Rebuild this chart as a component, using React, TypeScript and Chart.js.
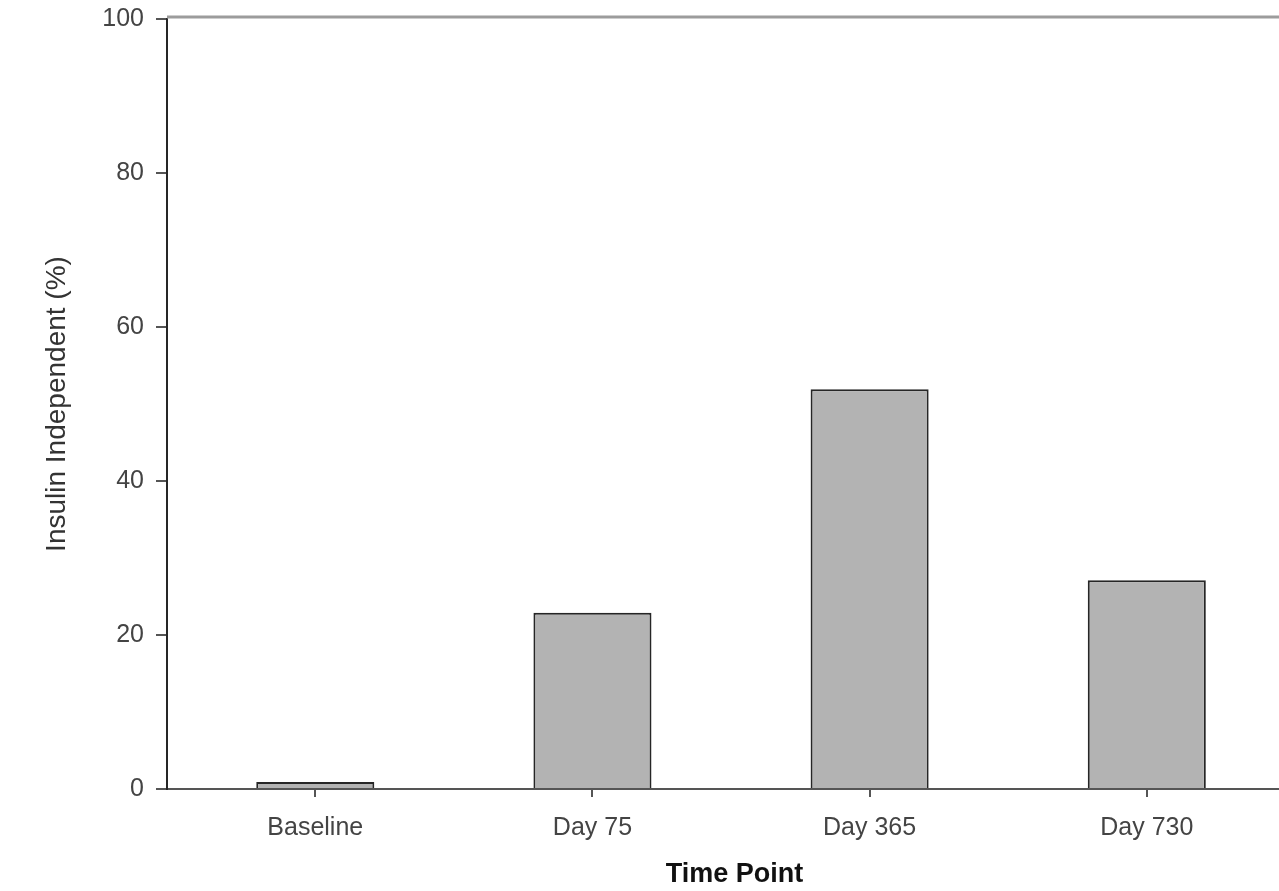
import React, { useEffect, useRef } from "react";
import { Chart, registerables } from "chart.js";

Chart.register(...registerables);

const categories = ["Baseline", "Day 75", "Day 365", "Day 730"];
const positions = [0, 1, 2, 3];
const insulinIndependent = [0.9, 22.9, 51.9, 27.1];
const yTickValues = [0, 20, 40, 60, 80, 100];

const FONT = '"Liberation Sans", Arial, Helvetica, sans-serif';

export default function App() {
  const ref = useRef<HTMLCanvasElement>(null);

  useEffect(() => {
    if (!ref.current) return;
    const topLine = {
      id: "topLine",
      afterDraw(chart: any) {
        const { ctx, chartArea } = chart;
        ctx.save();
        ctx.strokeStyle = "#9c9c9c";
        ctx.lineWidth = 3;
        ctx.beginPath();
        ctx.moveTo(chartArea.left, chartArea.top - 2);
        ctx.lineTo(chartArea.right, chartArea.top - 2);
        ctx.stroke();
        ctx.restore();
      },
    };
    const chart = new Chart(ref.current, {
      type: "bar",
      data: {
        datasets: [
          {
            data: positions.map((x, i) => ({ x, y: insulinIndependent[i] })),
            backgroundColor: "#b3b3b3",
            borderColor: "#262626",
            borderWidth: 2,
            barPercentage: 0.426,
            categoryPercentage: 1,
          },
        ],
      },
      options: {
        responsive: false,
        animation: false,
        layout: { padding: { top: 19, left: 0, right: 0, bottom: 0 } },
        plugins: { legend: { display: false }, tooltip: { enabled: false } },
        scales: {
          x: {
            type: "linear",
            offset: false,
            min: -0.535,
            max: 3.56,
            afterBuildTicks: (s: any) => {
              s.ticks = positions.map((v) => ({ value: v }));
            },
            afterFit: (s: any) => {
              s.height = 102;
              s.paddingLeft = 0;
              s.paddingRight = 0;
            },
            ticks: {
              autoSkip: false,
              maxRotation: 0,
              padding: 16,
              color: "#444",
              font: { family: FONT, size: 25 },
              callback: (v: any) => categories[v] ?? "",
            },
            grid: {
              offset: false,
              drawOnChartArea: false,
              drawTicks: true,
              tickLength: 8,
              color: "#555",
              lineWidth: 2,
            },
            border: { display: true, color: "#555", width: 2 },
            title: {
              display: true,
              text: "Time Point",
              color: "#111",
              font: { family: FONT, size: 27, weight: "bold" },
              padding: { top: 2, bottom: 0 },
            },
          },
          y: {
            min: 0,
            max: 100,
            afterBuildTicks: (s: any) => {
              s.ticks = yTickValues.map((v) => ({ value: v }));
            },
            afterFit: (s: any) => {
              s.width = 167;
              s.paddingTop = 0;
              s.paddingBottom = 0;
            },
            ticks: {
              padding: 12,
              color: "#444",
              font: { family: FONT, size: 25 },
            },
            grid: {
              drawOnChartArea: false,
              drawTicks: true,
              tickLength: 11,
              color: "#555",
              lineWidth: 2,
            },
            border: { display: true, color: "#262626", width: 2 },
            title: {
              display: true,
              text: "Insulin Independent (%)",
              color: "#333",
              font: { family: FONT, size: 28 },
              padding: { top: 40, bottom: 0 },
            },
          },
        },
      },
      plugins: [topLine],
    } as any);
    return () => chart.destroy();
  }, []);

  return (
    <div
      style={{
        position: "fixed",
        left: 0,
        top: 0,
        width: 1279,
        height: 891,
        overflow: "hidden",
        background: "#fff",
      }}
    >
      <canvas ref={ref} width={1302} height={891} style={{ display: "block" }} />
    </div>
  );
}
